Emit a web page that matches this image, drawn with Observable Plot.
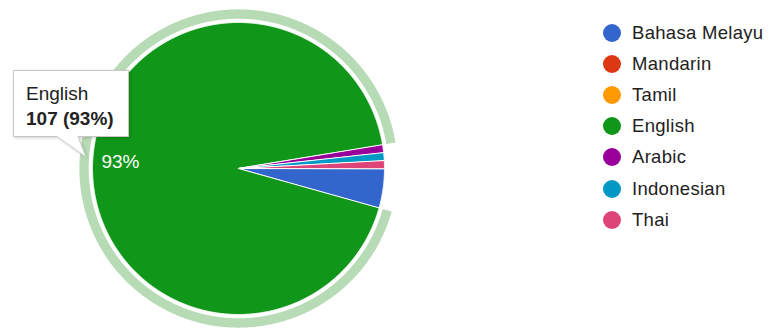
<!DOCTYPE html>
<html>
<head>
<meta charset="utf-8">
<script src="https://cdn.jsdelivr.net/npm/d3@7"></script>
<script src="https://cdn.jsdelivr.net/npm/@observablehq/plot@0.6"></script>
<style>
  html, body { margin: 0; padding: 0; background: #fff; }
  #wrap { position: relative; width: 769px; height: 328px; overflow: hidden; font-family: Arial, "Liberation Sans", sans-serif; }
  #wrap > svg.plot { position: absolute; left: 0; top: 0; }
  #legend { position: absolute; left: 603px; top: 17px; }
  .row { display: flex; align-items: center; height: 31.2px; }
  .dot { width: 18px; height: 18px; border-radius: 50%; margin-right: 11px; flex: none; }
  .lab { font-size: 18.5px; color: #222; white-space: nowrap; letter-spacing: 0.3px; }
  #tip { position: absolute; left: 0; top: 0; overflow: visible; }
</style>
</head>
<body>
<div id="wrap"></div>
<script>
const categories = ["Bahasa Melayu", "Mandarin", "Tamil", "English", "Arabic", "Indonesian", "Thai"];
const counts = [5, 0, 0, 107, 1, 1, 1];
const colors = ["#3366cc", "#dc3912", "#ff9900", "#109618", "#990099", "#0099c6", "#dd4477"];
const highlighted = "English";
const ringColor = "#b7dbb5";

const data = categories.map((name, i) => ({name, value: counts[i]}));
const total = d3.sum(counts);
const arcs = d3.pie().sort(null).value(d => d.value)
  .startAngle(Math.PI / 2).endAngle(Math.PI / 2 + 2 * Math.PI)(data);

function arcPoints(a0, a1, r) {
  const n = Math.max(2, Math.ceil(Math.abs(a1 - a0) / 0.004));
  return d3.range(n + 1).map(k => a0 + (a1 - a0) * k / n).map(a => [r * Math.sin(a), r * Math.cos(a)]);
}

const slicePts = [];
for (const a of arcs) {
  if (a.data.value <= 0) continue;
  const pts = [[0, 0], ...arcPoints(a.startAngle, a.endAngle, 1)];
  for (const p of pts) slicePts.push({name: a.data.name, x: p[0], y: p[1]});
}

const hi = arcs.find(a => a.data.name === highlighted);
const rOuter = 1.09, rInner = 1.026;
const ringPts = [...arcPoints(hi.startAngle, hi.endAngle, rOuter), ...arcPoints(hi.endAngle, hi.startAngle, rInner)]
  .map(p => ({x: p[0], y: p[1]}));

const mid = (hi.startAngle + hi.endAngle) / 2;
const labelR = 0.81;
const pct = Math.round(hi.data.value / total * 100);
const labels = [{x: labelR * Math.sin(mid), y: labelR * Math.cos(mid), text: pct + "%"}];

const chart = Plot.plot({
  width: 769,
  height: 328,
  marginLeft: 92,
  marginRight: 385,
  marginTop: 22,
  marginBottom: 14,
  x: {domain: [-1, 1], axis: null},
  y: {domain: [-1, 1], axis: null},
  color: {domain: categories, range: colors},
  style: {background: "#fff", overflow: "visible"},
  marks: [
    Plot.line(ringPts, {x: "x", y: "y", fill: ringColor, stroke: "none", curve: "linear-closed"}),
    Plot.line(slicePts, {x: "x", y: "y", z: "name", fill: "name", stroke: "white", strokeWidth: 1, curve: "linear-closed"}),
    Plot.text(labels, {x: "x", y: "y", text: "text", fill: "white", fontSize: 19, fontFamily: "Arial, 'Liberation Sans', sans-serif"})
  ]
});
chart.classList.add("plot");
const wrap = document.getElementById("wrap");
wrap.appendChild(chart);

// Legend
const legend = document.createElement("div");
legend.id = "legend";
categories.forEach((c, i) => {
  const row = document.createElement("div");
  row.className = "row";
  const dot = document.createElement("span");
  dot.className = "dot";
  dot.style.background = colors[i];
  const lab = document.createElement("span");
  lab.className = "lab";
  lab.textContent = c;
  row.appendChild(dot);
  row.appendChild(lab);
  legend.appendChild(row);
});
wrap.appendChild(legend);

// Tooltip annotation
const ns = "http://www.w3.org/2000/svg";
const tip = document.createElementNS(ns, "svg");
tip.setAttribute("id", "tip");
tip.setAttribute("width", 769);
tip.setAttribute("height", 328);
tip.innerHTML = `
  <defs><filter id="sh" x="-20%" y="-20%" width="140%" height="140%">
    <feDropShadow dx="1" dy="1" stdDeviation="1.5" flood-color="#000" flood-opacity="0.18"/>
  </filter></defs>
  <path d="M13.5,70.5 H128.5 V136.5 H78 L86,157 L57,136.5 H13.5 Z" fill="#fff" stroke="#c8c8c8" stroke-width="1" filter="url(#sh)"/>
`;
const t1 = document.createElementNS(ns, "text");
t1.setAttribute("x", 26); t1.setAttribute("y", 100);
t1.setAttribute("font-size", 19); t1.setAttribute("fill", "#222");
t1.setAttribute("font-family", "Arial, 'Liberation Sans', sans-serif");
t1.textContent = highlighted;
const t2 = document.createElementNS(ns, "text");
t2.setAttribute("x", 26); t2.setAttribute("y", 125);
t2.setAttribute("font-size", 19); t2.setAttribute("font-weight", "bold"); t2.setAttribute("fill", "#222");
t2.setAttribute("font-family", "Arial, 'Liberation Sans', sans-serif");
t2.textContent = `${hi.data.value} (${pct}%)`;
tip.appendChild(t1); tip.appendChild(t2);
wrap.appendChild(tip);
</script>
</body>
</html>
